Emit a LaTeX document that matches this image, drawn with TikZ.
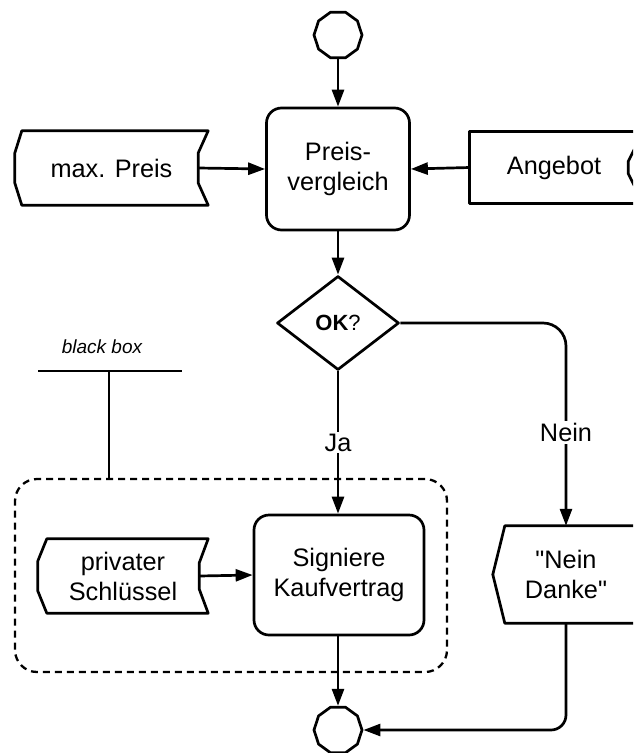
\documentclass[tikz,border=0pt]{standalone}
\usepackage{fontspec}
\setmainfont{Liberation Sans}
\usetikzlibrary{arrows.meta,shapes.geometric,calc}
\begin{document}
\begin{tikzpicture}[x=1pt,y=-1pt,
  every node/.style={font=\fontsize{25.3}{30}\selectfont, align=center, inner sep=0pt},
  ln/.style={line width=2.7pt, line join=round},
  arr/.style={ln, -{Triangle[length=17pt,width=12pt]}},
  proc/.style={ln, draw, rounded corners=15pt, rectangle},
  term/.style={ln, draw, regular polygon, regular polygon sides=10, minimum size=48pt},
  lbl/.style={fill=white, inner sep=2pt},
  dbox/.style={line width=2.3pt, draw, rounded corners=22pt, dash pattern=on 7pt off 5pt}
]
\useasboundingbox (0,0) rectangle (633,753);
\clip (0,0) rectangle (633,753);

% black box frame
\node[dbox, minimum width=432pt, minimum height=193pt] (bb) at (231,575.5) {};
\node[font=\fontsize{19}{22}\selectfont\itshape] (bbl) at (102,347) {black box};
\coordinate (bbL) at (38,371);
\coordinate (bbR) at (182,371);
\coordinate (bbM) at (109,371);
\draw[ln] (bbL) -- (bbR);
\draw[ln] (bbM) -- (bbM |- bb.north);

% start
\node[term] (start) at (338,35) {};

% Preisvergleich
\node[proc, minimum width=143pt, minimum height=122pt] (pv) at (338,169) {Preis-\\vergleich};
\draw[arr] (start.south) -- (pv.north);

% max. Preis
\node[minimum width=193pt, minimum height=74pt] (mp) at (111.5,168) {max. Preis};
\draw[ln] ($(mp.north west)+(7,0)$) -- (mp.north east) -- ($(mp.east)+(-10,-15)$) -- ($(mp.east)+(-10,15)$) -- (mp.south east) -- ($(mp.south west)+(7,0)$) -- ($(mp.west)+(0,15)$) -- ($(mp.west)+(0,-15)$) -- cycle;
\coordinate (mpout) at ($(mp.east)+(-10,0)$);
\draw[arr] (mpout) -- (pv.west);

% Angebot
\node[minimum width=168pt, minimum height=71pt] (ang) at (554,167.5) {Angebot};
\draw[ln] ($(ang.north east)+(10,0)$) -- (ang.north west) -- (ang.south west) -- ($(ang.south east)+(10,0)$);
\draw[ln] ($(ang.east)+(-4,-18)$) -- ($(ang.east)+(-10,-6)$) -- ($(ang.east)+(-10,6)$) -- ($(ang.east)+(-4,18)$);
\draw[arr] (ang.west) -- (pv.east);

% decision
\node[ln, draw, diamond, minimum width=122pt, minimum height=94pt, font=\fontsize{22}{26}\selectfont] (ok) at (338,323) {\textbf{OK}?};
\draw[arr] (pv.south) -- (ok.north);

% Signiere Kaufvertrag
\node[proc, minimum width=170pt, minimum height=120pt] (sig) at (339,575) {Signiere\\Kaufvertrag};
\draw[arr] (ok.south) -- node[lbl, pos=0.5] (ja) {Ja} (ok.south |- sig.north);

% privater Schluessel
\node[minimum width=170pt, minimum height=74pt] (psk) at (123,576) {privater\\Schlüssel};
\draw[ln] ($(psk.north west)+(9,0)$) -- (psk.north east) -- ($(psk.east)+(-9,-13)$) -- ($(psk.east)+(-9,13)$) -- (psk.south east) -- ($(psk.south west)+(9,0)$) -- ($(psk.west)+(0,15)$) -- ($(psk.west)+(0,-15)$) -- cycle;
\coordinate (pskout) at ($(psk.east)+(-9,0)$);
\draw[arr] (pskout) -- (sig.west);

% Nein Danke
\node[minimum width=146pt, minimum height=97pt] (nd) at (566,574.5) {\textquotedbl Nein\\Danke\textquotedbl};
\draw[ln] ($(nd.north east)+(20,0)$) -- ($(nd.north west)+(12,0)$) -- (nd.west) -- ($(nd.south west)+(12,0)$) -- ($(nd.south east)+(20,0)$);
\draw[arr, rounded corners=23pt] (ok.east) -| node[lbl, pos=0.77] (nein) {Nein} (nd.north);

% end
\node[term] (end) at (338,730) {};
\draw[arr] (end.north |- sig.south) -- (end.north);
\draw[arr, rounded corners=15pt] (nd.south) |- (end.east);
\end{tikzpicture}
\end{document}
